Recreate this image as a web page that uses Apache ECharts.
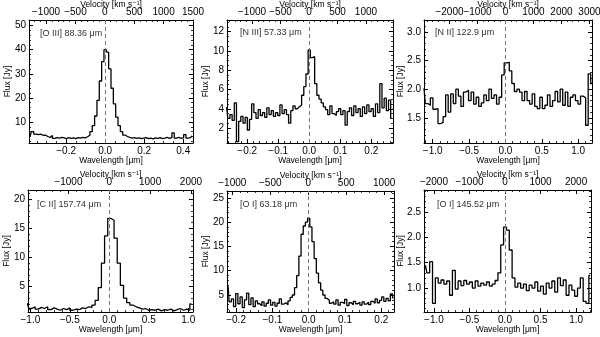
<!DOCTYPE html>
<html><head><meta charset="utf-8">
<script src="https://cdn.jsdelivr.net/npm/echarts@6/dist/echarts.min.js"></script>
<style>html,body{margin:0;padding:0;background:#fff}#c{width:600px;height:337px}</style>
</head><body><div id="c"></div>
<script>
// ---------- data ----------
const lineNames = ['[O III] 88.36 μm','[N III] 57.33 μm','[N II] 122.9 μm','[C II] 157.74 μm','[O I] 63.18 μm','[O I] 145.52 μm'];
const binStart = [-0.384, -0.266, -1.12, -1.04, -0.222, -1.12];
const binWidth = [0.012, 0.007, 0.035, 0.04, 0.006, 0.04];

const flux1 = [4.2,6,5,4.8,5,4.5,4.6,4,3.6,4.4, 3.2,3.5,3.3,3.6,3.4,3.1,3.5,3.2,3.4,3.1, 3.5,3.3,3.6,3.4,3.9,4.5,6,8.5,12.5,19, 27,35,40,39,32,24,17.5,12,8.5,6, 4.6,4,3.6,3.3,3.5,3.2,3.4,3.1,3.3,3.5, 3.1,3.3,3.0,3.4,3.2,3.5,3.1,3.3,3.6,3.2, 3.5,5.5,3.3,3.6,3.2,3.5,4.8,3.3,3.5,4.3];
const flux2 = [4.2,3.0,3.4,2.8,4.6,0.6,2.7,3.2,2.5,3.1, 1.8,2.9,4.5,3.6,3.0,3.9,3.3,3.6,3.1,4.1, 3.4,3.8,3.2,3.6,3.3,4.4,3.5,3.9,3.4,2.5, 3.8,4.3,4.0,4.2,4.4,5.4,6.3,7.6,10.1,9.3, 9.4,6.6,5.4,5.0,4.6,4.2,3.9,3.4,4.3,3.5, 3.3,3.7,4.0,3.4,3.8,2.3,3.7,4.1,3.3,4.3, 3.6,4.0,3.2,4.2,3.5,4.4,3.7,4.0,3.2,4.5, 3.6,6.6,4.1,5.1,3.8,4.9,3.0];
const flux3 = [2.02,1.75,1.72,1.85,1.65,1.66,1.40,1.42,1.52,1.90, 1.60,1.92,1.75,2.00,1.88,1.70,1.95,1.98,1.80,1.95, 1.74,1.86,1.70,1.76,1.90,1.80,2.00,1.84,1.90,1.74, 1.86,2.25,2.46,2.47,2.32,2.10,1.96,2.00,1.95,1.80, 1.96,1.80,1.74,1.92,1.70,1.66,1.86,1.66,1.72,1.90, 1.70,1.80,1.96,1.78,2.00,1.72,1.95,1.70,1.86,1.90, 1.80,1.74,1.88,1.85,1.37,2.27,2.10];
const flux4 = [2.1,1.2,1.5,1.1,1.4,1.2,1.5,1.0,1.3,1.1, 0.9,1.2,1.0,1.3,0.9,1.1,1.0,1.3,1.2,1.5, 1.4,1.8,2.6,4.8,9.0,13.7,16.7,16.4,13.3,9.0, 5.2,3.0,2.2,1.8,1.5,1.3,1.1,1.2,0.9,1.0, 0.9,1.1,0.8,1.0,0.9,1.1,0.8,1.0,1.2,0.9, 1.1,0.9,2.0];
const flux5 = [6.8,3.6,4.2,2.6,5.3,3.2,4.6,2.4,4.0,5.4, 3.0,4.4,2.6,3.8,3.2,2.8,3.6,2.7,3.3,4.0, 2.9,3.5,2.7,3.3,4.2,3.1,3.4,3.0,3.8,4.5, 5.0,6.5,9.0,13.0,17.5,19.2,20.0,20.8,19.0,16.0, 12.5,9.5,7.5,6.0,5.0,4.3,3.9,3.3,3.6,3.1, 4.0,2.9,3.5,3.2,4.1,2.8,3.4,3.0,3.7,3.2, 3.5,2.9,3.6,3.1,3.5,3.0,3.7,3.3,4.2,3.4, 3.9,4.6,3.7,4.3,3.8,5.2,4.4];
const flux6 = [1.45,1.30,1.52,0.70,1.20,1.10,1.16,1.08,1.14,0.86, 1.35,0.98,1.14,1.05,1.15,1.08,1.12,1.00,1.14,1.04, 1.10,1.06,1.12,1.04,1.08,1.15,1.30,1.85,2.20,2.14, 1.75,1.20,1.02,1.10,1.00,1.08,0.95,1.06,1.00,1.12, 0.94,1.04,0.88,1.10,1.00,1.14,0.92,1.20,1.05,1.16, 0.86,1.06,0.96,0.84,1.00,1.20,0.74,0.70,1.25];
const fluxes = [flux1, flux2, flux3, flux4, flux5, flux6];

// axis ranges
const wlRange = [[-0.39,0.45],[-0.265,0.27],[-1.12,1.19],[-1.03,1.06],[-0.225,0.235],[-1.14,1.21]];
const velRange = [[-1290,1500],[-1440,1475],[-2910,3090],[-1990,2050],[-1070,1130],[-2280,2420]];
const fluxRange = [[1.3,52.3],[0.45,13.2],[1.06,3.21],[0.6,21.6],[1.5,26.4],[0.53,2.93]];

// tick labels
const wlTicks = [[-0.2,0,0.2,0.4],[-0.2,-0.1,0,0.1,0.2],[-1,-0.5,0,0.5,1],[-1,-0.5,0,0.5,1],[-0.2,-0.1,0,0.1,0.2],[-1,-0.5,0,0.5,1]];
const velTicks = [[-1000,-500,0,500,1000,1500],[-1000,-500,0,500,1000],[-2000,-1000,0,1000,2000,3000],[-1000,0,1000,2000],[-1000,-500,0,500,1000],[-2000,-1000,0,1000,2000]];
const fluxTicks = [[10,20,30,40,50],[2,4,6,8,10,12],[1.5,2.0,2.5,3.0],[5,10,15,20],[5,10,15,20,25],[1.0,1.5,2.0,2.5]];
const fluxDecimals = [0,0,1,0,0,1];
const wlMinorStep = [0.05,0.02,0.1,0.1,0.02,0.1];
const velMinorStep = [100,100,200,200,100,200];
const fluxMinorStep = [2,0.5,0.1,1,1,0.1];

// ---------- layout ----------
const grids = [
  {left:29, top:20, width:164, height:123},
  {left:227, top:20, width:166, height:123},
  {left:424, top:20, width:168, height:123},
  {left:28, top:190, width:165, height:122},
  {left:227, top:191, width:167, height:121},
  {left:424, top:190, width:167, height:122}
];
const labelPos = [[40,29],[240,28],[435,28],[37,200],[240,200],[437,200]];
const yNameGap = [17,17,19,17,17,19];

const FONT = 'Liberation Sans, Arial, DejaVu Sans, sans-serif';
function fmt(dec){ return v => (v < -1e-9 ? '−' : '') + Math.abs(v).toFixed(dec); }
function minorList(r, step){ const out=[]; for(let k=Math.ceil(r[0]/step-1e-9); k*step<=r[1]+1e-9; k++) out.push(+(k*step).toFixed(6)); return out; }

const xAxis=[], yAxis=[], series=[], graphic=[];
const lineCol = {color:'#000', width:1};
function mainAxis(gi, pos, range, ticks, dec, showLabel, name, gap){
  return {gridIndex:gi, type:'value', position:pos, min:range[0], max:range[1],
    axisLine:{show:true, onZero:false, lineStyle:lineCol},
    axisTick:{show:true, inside:true, length:4, customValues:ticks, lineStyle:lineCol},
    axisLabel:{show:showLabel, customValues:ticks, formatter:fmt(dec), fontSize:10, color:'#000', margin:3, fontFamily:FONT},
    splitLine:{show:false}, minorTick:{show:false},
    name: name||'', nameLocation:'middle', nameGap: gap||0, nameMoveOverlap:false,
    nameTextStyle:{fontSize:8.5, color:'#000', fontFamily:FONT}};
}
function minorAxis(gi, pos, range, step){
  return {gridIndex:gi, type:'value', position:pos, min:range[0], max:range[1],
    axisLine:{show:false, onZero:false},
    axisTick:{show:true, inside:true, length:2, customValues:minorList(range, step), lineStyle:{color:'#000', width:0.8}},
    axisLabel:{show:false}, splitLine:{show:false}};
}

for(let p=0;p<6;p++){
  const xi = xAxis.length, yi = yAxis.length;
  xAxis.push(mainAxis(p,'bottom',wlRange[p],wlTicks[p],1,true,'Wavelength [μm]',13));
  xAxis.push(minorAxis(p,'bottom',wlRange[p],wlMinorStep[p]));
  xAxis.push(mainAxis(p,'top',velRange[p],velTicks[p],0,true,'Velocity [km s⁻¹]',10.5));
  xAxis.push(minorAxis(p,'top',velRange[p],velMinorStep[p]));
  yAxis.push(mainAxis(p,'left',fluxRange[p],fluxTicks[p],fluxDecimals[p],true,'Flux [Jy]',yNameGap[p]));
  yAxis.push(minorAxis(p,'left',fluxRange[p],fluxMinorStep[p]));
  yAxis.push(mainAxis(p,'right',fluxRange[p],fluxTicks[p],fluxDecimals[p],false));
  yAxis.push(minorAxis(p,'right',fluxRange[p],fluxMinorStep[p]));
  const data = fluxes[p].map((f,i)=>[binStart[p]+binWidth[p]*i, f]);
  series.push({type:'line', xAxisIndex:xi, yAxisIndex:yi, data, step:'middle', symbol:'none',
    clip:true, lineStyle:{color:'#000', width:1.3}, animation:false,
    markLine:{silent:true, symbol:'none', animation:false, label:{show:false},
      lineStyle:{color:'#777', type:[4,3], width:1}, data:[{xAxis:0}]}});
  graphic.push({type:'text', left:labelPos[p][0], top:labelPos[p][1],
    style:{text:lineNames[p], fontSize:9, fill:'#333', fontFamily:FONT}});
}

const chart = echarts.init(document.getElementById('c'), null, {renderer:'canvas'});
chart.setOption({
  animation:false,
  backgroundColor:'#fff',
  grid: grids.map(g=>Object.assign({containLabel:false, outerBoundsMode:'none'}, g)),
  xAxis, yAxis, series, graphic
});
</script></body></html>
